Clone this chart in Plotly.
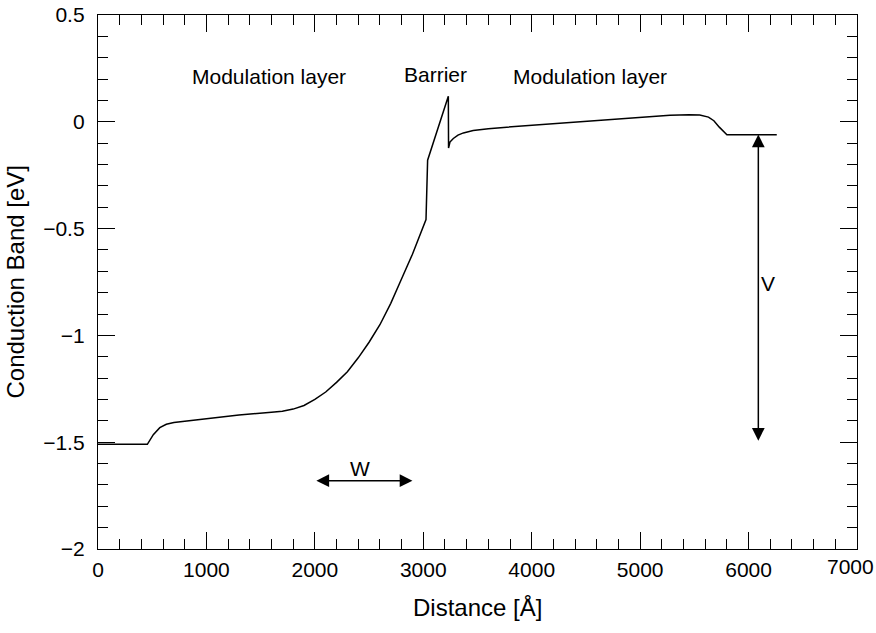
import plotly.graph_objects as go

# Conduction band profile across the structure (distance in Å, energy in eV)
distance = [0, 455, 510, 570, 630, 700, 1000, 1300, 1600, 1700, 1800, 1900,
            2000, 2100, 2200, 2300, 2400, 2500, 2600, 2700, 2800, 2900, 3025,
            3040, 3231, 3233, 3246, 3277, 3320, 3370, 3460, 3600, 3770, 4400,
            5000, 5275, 5450, 5550, 5630, 5680, 5730, 5800, 6260]
energy = [-1.51, -1.51, -1.465, -1.432, -1.416, -1.408, -1.39, -1.373, -1.36,
          -1.355, -1.345, -1.328, -1.30, -1.265, -1.22, -1.17, -1.105, -1.032,
          -0.95, -0.85, -0.735, -0.62, -0.458, -0.18, 0.12, -0.123, -0.095,
          -0.078, -0.062, -0.052, -0.041, -0.032, -0.025, -0.002, 0.022, 0.031,
          0.033, 0.032, 0.022, 0.005, -0.025, -0.061, -0.061]

x_ticks = [0, 1000, 2000, 3000, 4000, 5000, 6000, 7000]
x_ticktext = ["0", "1000", "2000", "3000", "4000", "5000", "6000", ""]
y_ticks = [-2, -1.5, -1, -0.5, 0, 0.5]

# Width marker W and band offset marker V
w_start, w_end, w_level = 2000, 2900, -1.68
v_pos, v_top, v_bottom = 6090, -0.06, -1.5

FONT = "Liberation Sans, Arial, sans-serif"
FS = 21
FS_TITLE = 24

fig = go.Figure()
fig.add_trace(go.Scatter(x=distance, y=energy, mode="lines",
                         line=dict(color="black", width=1.5),
                         showlegend=False, hoverinfo="skip"))

axis_common = dict(showline=True, linecolor="black", linewidth=1.3,
                   mirror="allticks", ticks="inside", tickcolor="black",
                   tickwidth=1.3, ticklen=17, showgrid=False, zeroline=False,
                   tickfont=dict(family=FONT, size=FS, color="black"))

fig.update_xaxes(range=[0, 7000], tickvals=x_ticks, ticktext=x_ticktext,
                 minor=dict(dtick=200, ticks="inside", ticklen=10,
                            tickcolor="black", tickwidth=1.3, showgrid=False),
                 ticklabelstandoff=2, **axis_common)
fig.update_yaxes(range=[-2, 0.5], tickvals=y_ticks,
                 minor=dict(dtick=0.1, ticks="inside", ticklen=10,
                            tickcolor="black", tickwidth=1.3, showgrid=False),
                 ticklabelstandoff=8, **axis_common)

txt = dict(family=FONT, size=FS, color="black")
title_txt = dict(family=FONT, size=FS_TITLE, color="black")
annotations = [
    dict(x=7000, y=0, xref="x", yref="paper", text="7000", showarrow=False,
         font=txt, xanchor="center", yanchor="top", xshift=-7, yshift=-4),
    dict(x=0.5, y=-0.11, xref="paper", yref="paper", text="Distance [Å]",
         showarrow=False, font=title_txt, xanchor="center", yanchor="middle"),
    dict(x=-0.11, y=0.5, xref="paper", yref="paper",
         text="Conduction Band [eV]", textangle=-90, showarrow=False,
         font=title_txt, xanchor="center", yanchor="middle"),
    dict(x=1576, y=0.21, text="Modulation layer", showarrow=False, font=txt),
    dict(x=3114, y=0.22, text="Barrier", showarrow=False, font=txt),
    dict(x=4535, y=0.21, text="Modulation layer", showarrow=False, font=txt),
    dict(x=2414, y=-1.625, text="W", showarrow=False, font=txt),
    dict(x=6181, y=-0.755, text="V", showarrow=False, font=txt),
    # double-headed arrows
    dict(x=w_end, y=w_level, ax=w_start, ay=w_level, xref="x", yref="y",
         axref="x", ayref="y", text="", showarrow=True, arrowhead=2,
         startarrowhead=2, arrowside="end+start", arrowsize=1.7,
         startarrowsize=1.7, arrowwidth=1.5, arrowcolor="black"),
    dict(x=v_pos, y=v_top, ax=v_pos, ay=v_bottom, xref="x", yref="y",
         axref="x", ayref="y", text="", showarrow=True, arrowhead=2,
         startarrowhead=2, arrowside="end+start", arrowsize=1.7,
         startarrowsize=1.7, arrowwidth=1.5, arrowcolor="black"),
]

fig.update_layout(width=876, height=633, template="none",
                  margin=dict(l=98, r=19, t=15, b=84),
                  paper_bgcolor="white", plot_bgcolor="white",
                  font=dict(family=FONT, size=FS, color="black"),
                  annotations=annotations, showlegend=False)

fig.write_html("out.html")
